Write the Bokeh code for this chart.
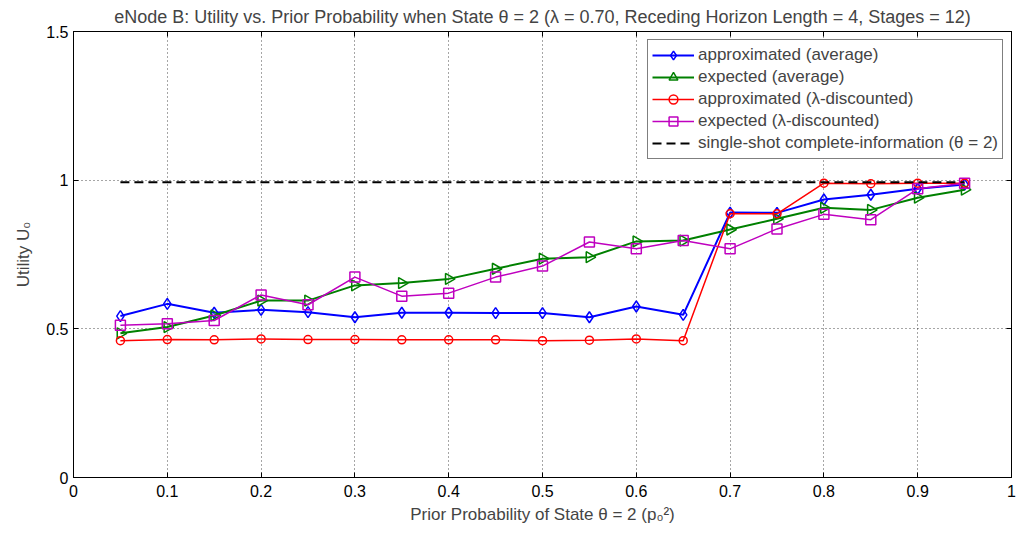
from bokeh.plotting import figure
from bokeh.models import Range1d, FixedTicker, LinearAxis, Legend, LegendItem
from bokeh.embed import file_html
from bokeh.resources import INLINE
import math

x = [0.05, 0.10, 0.15, 0.20, 0.25, 0.30, 0.35, 0.40, 0.45, 0.50,
     0.55, 0.60, 0.65, 0.70, 0.75, 0.80, 0.85, 0.90, 0.95]
approx_avg = [0.543, 0.584, 0.554, 0.564, 0.556, 0.539, 0.554, 0.554, 0.553, 0.553,
              0.539, 0.575, 0.547, 0.891, 0.890, 0.935, 0.951, 0.971, 0.985]
expected_avg = [0.485, 0.506, 0.545, 0.595, 0.595, 0.646, 0.654, 0.668, 0.702, 0.736,
                0.741, 0.794, 0.797, 0.834, 0.870, 0.907, 0.900, 0.941, 0.968]
approx_disc = [0.460, 0.464, 0.463, 0.466, 0.464, 0.464, 0.463, 0.463, 0.463, 0.460,
               0.462, 0.466, 0.460, 0.887, 0.887, 0.990, 0.988, 0.990, 0.990]
expected_disc = [0.512, 0.517, 0.528, 0.614, 0.581, 0.674, 0.610, 0.620, 0.674, 0.711,
                 0.792, 0.769, 0.797, 0.769, 0.836, 0.885, 0.867, 0.971, 0.990]
single_shot_x = [0.05, 0.95]
single_shot_y = [0.993, 0.993]

x_ticks = [0, 0.1, 0.2, 0.3, 0.4, 0.5, 0.6, 0.7, 0.8, 0.9, 1]
x_tick_labels = ["0", "0.1", "0.2", "0.3", "0.4", "0.5", "0.6", "0.7", "0.8", "0.9", "1"]
y_ticks = [0, 0.5, 1, 1.5]
y_tick_labels = ["0", "0.5", "1", "1.5"]

FONT = "Liberation Sans"

p = figure(width=1019, height=538, output_backend="svg", toolbar_location=None,
           x_range=Range1d(0, 1), y_range=Range1d(0, 1.5),
           x_axis_location=None, y_axis_location=None,
           min_border_left=73, min_border_right=8, min_border_top=31, min_border_bottom=61,
           title="eNode B: Utility vs. Prior Probability when State θ = 2 (λ = 0.70, Receding Horizon Length = 4, Stages = 12)")
p.title.align = "center"
p.title.text_font = FONT
p.title.text_font_size = "18px"
p.title.text_font_style = "normal"
p.title.standoff = 9
p.outline_line_color = "black"
p.outline_line_width = 1
p.background_fill_color = "white"
p.border_fill_color = "white"

def mk_axis(ticks, labels, show):
    ax = LinearAxis(ticker=FixedTicker(ticks=ticks))
    ax.major_tick_in = 5
    ax.major_tick_out = 0
    ax.minor_tick_in = 0
    ax.minor_tick_out = 0
    ax.axis_line_color = "black"
    ax.major_tick_line_color = "black"
    if show:
        ax.major_label_overrides = {t: l for t, l in zip(ticks, labels)}
        ax.major_label_text_font = FONT
        ax.major_label_text_font_size = "16px"
        ax.major_label_text_color = "black"
    else:
        ax.major_label_overrides = {t: "" for t in ticks}
        ax.major_label_text_font_size = "0px"
        ax.major_label_standoff = 0
    return ax

xb = mk_axis(x_ticks, x_tick_labels, True)
xb.major_label_standoff = 7
xb.axis_label = "Prior Probability of State θ = 2 (p₀²)"
xb.axis_label_text_font = FONT
xb.axis_label_text_font_size = "17px"
xb.axis_label_text_font_style = "normal"
xb.axis_label_standoff = 5
p.add_layout(xb, "below")

yl = mk_axis(y_ticks, y_tick_labels, True)
yl.major_label_standoff = 5
yl.axis_label = "Utility U₀"
yl.axis_label_text_font = FONT
yl.axis_label_text_font_size = "17px"
yl.axis_label_text_font_style = "normal"
yl.axis_label_standoff = 10
p.add_layout(yl, "left")

p.add_layout(mk_axis(x_ticks, x_tick_labels, False), "above")
p.add_layout(mk_axis(y_ticks, y_tick_labels, False), "right")

p.xgrid.ticker = FixedTicker(ticks=x_ticks)
p.ygrid.ticker = FixedTicker(ticks=y_ticks)
for g in (p.xgrid, p.ygrid):
    g.grid_line_color = "black"
    g.grid_line_alpha = 0.7
    g.grid_line_dash = "1 3"
    g.grid_line_width = 1

# series
b_l = p.line(x, approx_avg, line_color="#0000ff", line_width=2)
b_m = p.scatter(x, approx_avg, marker="diamond", size=11, line_color="#0000ff",
                fill_alpha=0, line_width=1.5)
g_l = p.line(x, expected_avg, line_color="#008000", line_width=2)
g_m = p.scatter(x, expected_avg, marker="triangle", angle=-math.pi / 2, size=11,
                line_color="#008000", fill_alpha=0, line_width=1.5)
r_l = p.line(x, approx_disc, line_color="#ff0000", line_width=1.5)
r_m = p.scatter(x, approx_disc, marker="circle", size=8, line_color="#ff0000",
                fill_alpha=0, line_width=1.5)
m_l = p.line(x, expected_disc, line_color="#bf00bf", line_width=1.5)
m_m = p.scatter(x, expected_disc, marker="square", size=10, line_color="#bf00bf",
                fill_alpha=0, line_width=1.5)
k_l = p.line(single_shot_x, single_shot_y, line_color="black", line_width=2, line_dash="9 5")

legend = Legend(items=[
    LegendItem(label="approximated (average)", renderers=[b_l, b_m]),
    LegendItem(label="expected (average)", renderers=[g_l, g_m]),
    LegendItem(label="approximated (λ-discounted)", renderers=[r_l, r_m]),
    LegendItem(label="expected (λ-discounted)", renderers=[m_l, m_m]),
    LegendItem(label="single-shot complete-information (θ = 2)", renderers=[k_l]),
], location="top_right")
legend.border_line_color = "black"
legend.border_line_width = 1
legend.background_fill_color = "white"
legend.background_fill_alpha = 1
legend.label_text_font = FONT
legend.label_text_font_size = "17px"
legend.margin = 8
legend.padding = 4
legend.spacing = 0
legend.label_height = 22
legend.glyph_height = 22
legend.glyph_width = 42
legend.label_standoff = 4
p.add_layout(legend, "center")

open("out.html", "w").write(file_html(p, INLINE))
